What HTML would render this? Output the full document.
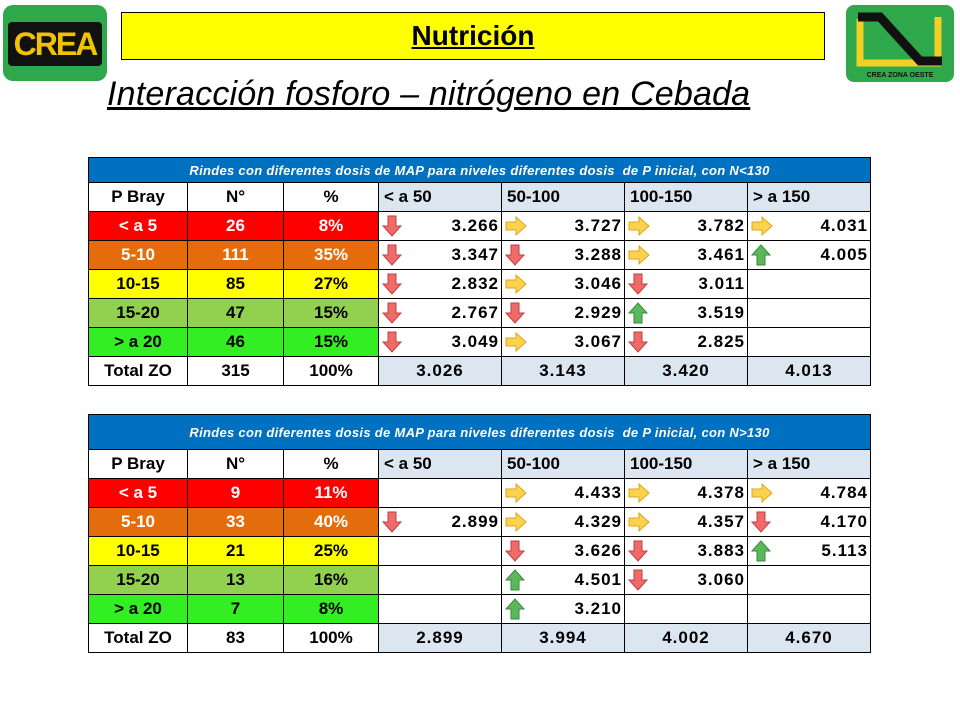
<!DOCTYPE html>
<html><head><meta charset="utf-8">
<style>
body{margin:0;width:960px;height:720px;background:#fff;position:relative;overflow:hidden;font-family:"Liberation Sans",sans-serif}
.abs{position:absolute}
.cell{position:absolute;box-sizing:border-box;border:1px solid #000;font-weight:bold;font-size:17px;display:flex;align-items:center;overflow:hidden}
.title{color:#fff;background:#0070c0;font-style:italic;font-size:13px;justify-content:center;letter-spacing:0.3px}
</style></head><body>
<div class="abs" style="left:3px;top:5px;width:104px;height:76px;background:#2ea84a;border-radius:10px">
 <div class="abs" style="left:5px;top:17px;width:94px;height:44px;background:#111;border-radius:4px;color:#f2c200;font-weight:bold;font-size:32px;text-align:center;line-height:44px;letter-spacing:-2px">CREA</div>
</div>
<div class="abs" style="left:121px;top:12px;width:704px;height:48px;background:#ffff00;border:1px solid #000;box-sizing:border-box;text-align:center;font-weight:bold;font-size:28px;line-height:46px;text-decoration:underline;color:#000">Nutrición</div>
<div class="abs" style="left:846px;top:5px;width:108px;height:77px;background:#2ea84a;border-radius:8px">
 <svg width="108" height="77" style="position:absolute;left:0;top:0">
  <polyline points="14,14 14,58 92,58 92,12" fill="none" stroke="#f2d023" stroke-width="7"/>
  <polyline points="12,12 34,12 74,56 96,56" fill="none" stroke="#111" stroke-width="9"/>
  <text x="54" y="72" text-anchor="middle" font-size="7" font-weight="bold" fill="#111" font-family="Liberation Sans">CREA ZONA OESTE</text>
 </svg>
</div>
<div class="abs" style="left:107px;top:75px;font-size:34px;font-style:italic;text-decoration:underline;color:#000;white-space:nowrap;letter-spacing:0.2px">Interacción fosforo – nitrógeno en Cebada</div>
<div id="root"></div>
<script>
const cols=[88,187,283,378,501,624,747,870];
const rowColors=['#ff0000','#e46c0a','#ffff00','#92d050','#33ee22'];
const rowTextColors=['#fff','#fff','#000','#000','#000'];
const pLabels=['< a 5','5-10','10-15','15-20','> a 20'];
const doseLabels=['< a 50','50-100','100-150','> a 150'];
const n1=['26','111','85','47','46'];
const pct1=['8%','35%','27%','15%','15%'];
const vals1=[[3.266,3.727,3.782,4.031],[3.347,3.288,3.461,4.005],[2.832,3.046,3.011,null],[2.767,2.929,3.519,null],[3.049,3.067,2.825,null]];
const arr1=[['d','r','r','r'],['d','d','r','u'],['d','r','d',''],['d','d','u',''],['d','r','d','']];
const tot1=['3.026','3.143','3.420','4.013'];
const n2=['9','33','21','13','7'];
const pct2=['11%','40%','25%','16%','8%'];
const vals2=[[null,4.433,4.378,4.784],[2.899,4.329,4.357,4.170],[null,3.626,3.883,5.113],[null,4.501,3.060,null],[null,3.210,null,null]];
const arr2=[['','r','r','r'],['d','r','r','d'],['','d','d','u'],['','u','d',''],['','u','','']];
const tot2=['2.899','3.994','4.002','4.670'];
const root=document.getElementById('root');
function arrow(t){
 if(t==='d')return '<svg width="20" height="22"><path d="M6,1 H14 V11 H19 L10,21 L1,11 H6 Z" fill="#f06a6a" stroke="#c04040" stroke-width="1"/></svg>';
 if(t==='u')return '<svg width="20" height="22"><path d="M6,21 H14 V11 H19 L10,1 L1,11 H6 Z" fill="#5cb85c" stroke="#3a8a3a" stroke-width="1"/></svg>';
 if(t==='r')return '<svg width="22" height="20"><path d="M1,6 V14 H11 V19 L21,10 L11,1 V6 Z" fill="#ffd24d" stroke="#d9a520" stroke-width="1"/></svg>';
 return '';
}
function cell(x0,x1,y,h,html,style){
 const d=document.createElement('div');
 d.className='cell';
 d.style.left=x0+'px';d.style.top=y+'px';d.style.width=(x1-x0+1)+'px';d.style.height=(h+1)+'px';
 d.style.cssText+=style||'';
 d.innerHTML=html;
 root.appendChild(d);
 return d;
}
function table(top,titleH,title,n,pct,vals,arr,tot,id){
 let t=cell(cols[0],cols[7],top,titleH,title,'');
 t.classList.add('title');
 
 
 const rh=29;let y=top+titleH;
 const hs=['P Bray','N°','%'];
 for(let c=0;c<3;c++){
  let h=cell(cols[c],cols[c+1],y,rh,hs[c],'justify-content:center;background:#fff');
  
  
 }
 for(let c=0;c<4;c++){
  let h=cell(cols[c+3],cols[c+4],y,rh,doseLabels[c],'padding-left:5px;background:#dce6f1');
  
  
 }
 for(let r=0;r<5;r++){
  y+=rh;
  const st='justify-content:center;background:'+rowColors[r]+';color:'+rowTextColors[r];
  let a=cell(cols[0],cols[1],y,rh,pLabels[r],st);
  
  
  let b=cell(cols[1],cols[2],y,rh,n[r],st);
  
  
  let p=cell(cols[2],cols[3],y,rh,pct[r],st);
  
  
  for(let c=0;c<4;c++){
   const v=vals[r][c];
   const html=v==null?'':'<span style="margin-left:3px;display:flex">'+arrow(arr[r][c])+'</span><span style="margin-left:auto;margin-right:2px;letter-spacing:1px;font-size:17px">'+v.toFixed(3)+'</span>';
   let d=cell(cols[c+3],cols[c+4],y,rh,html,'background:#fff');
   
   
  }
 }
 y+=rh;
 let tz=cell(cols[0],cols[1],y,rh,'Total ZO','justify-content:center;background:#fff');
 
 
 let tn=cell(cols[1],cols[2],y,rh,n.reduce((s,x)=>s+(+x),0),'justify-content:center;background:#fff');
 
 
 let tp=cell(cols[2],cols[3],y,rh,'100%','justify-content:center;background:#fff');
 
 
 for(let c=0;c<4;c++){
  let d=cell(cols[c+3],cols[c+4],y,rh,tot[c],'justify-content:center;background:#dce6f1;letter-spacing:1px');
  
  
 }
}
table(157,25,'<b>Rindes con diferentes dosis de MAP para niveles diferentes dosis &nbsp;de P inicial, con N&lt;130</b>',n1,pct1,vals1,arr1,tot1,'n-below-130');
table(414,35,'<b>Rindes con diferentes dosis de MAP para niveles diferentes dosis &nbsp;de P inicial, con N&gt;130</b>',n2,pct2,vals2,arr2,tot2,'n-above-130');
</script>
</body></html>
